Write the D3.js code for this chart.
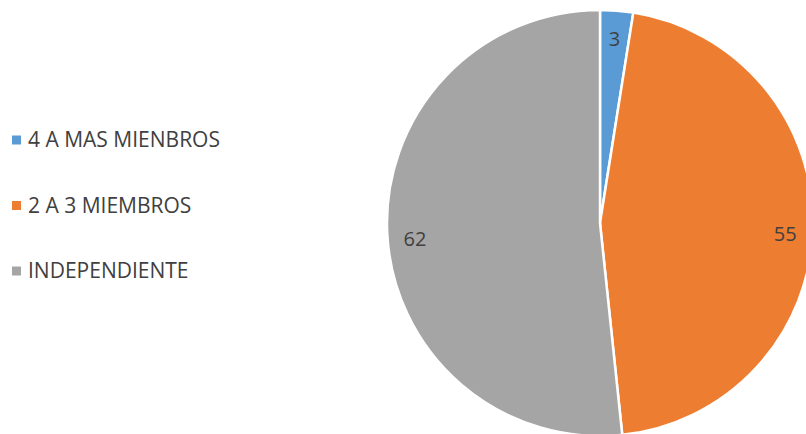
<!DOCTYPE html>
<html>
<head>
<meta charset="utf-8">
<script src="https://cdn.jsdelivr.net/npm/d3@7"></script>
<style>
  html, body { margin: 0; padding: 0; background: #fff; }
  svg { display: block; }
  text { font-family: "Open Sans", "Liberation Sans", sans-serif; fill: #404040; }
</style>
</head>
<body>
<svg id="chart" width="806" height="434"></svg>
<script>
// Household size categories and counts
const categories = ["4 A MAS MIENBROS", "2 A 3 MIEMBROS", "INDEPENDIENTE"];
const values = [3, 55, 62];
const colors = ["#5B9BD5", "#ED7D31", "#A5A5A5"];

const width = 806, height = 434;
const cx = 600, cy = 223, radius = 213;

const svg = d3.select("#chart");

const data = categories.map((c, i) => ({ name: c, value: values[i], color: colors[i] }));

const pie = d3.pie().value(d => d.value).sort(null);
const arcs = pie(data);

const arc = d3.arc().innerRadius(0).outerRadius(radius);
const labelArc = d3.arc().innerRadius(radius * 0.87).outerRadius(radius * 0.87);

const g = svg.append("g").attr("transform", `translate(${cx},${cy})`);

g.selectAll("path.slice")
  .data(arcs)
  .join("path")
  .attr("class", "slice")
  .attr("d", arc)
  .attr("fill", d => d.data.color)
  .attr("stroke", "#fff")
  .attr("stroke-width", 2.5)
  .attr("stroke-linejoin", "round");

// Value labels just inside the outer edge; side labels sit slightly lower
g.selectAll("text.value")
  .data(arcs)
  .join("text")
  .attr("class", "value")
  .attr("transform", d => {
    const [x, y] = labelArc.centroid(d);
    const mid = (d.startAngle + d.endAngle) / 2;
    return `translate(${x},${y + 6 * Math.abs(Math.sin(mid))})`;
  })
  .attr("text-anchor", "middle")
  .attr("dy", "0.35em")
  .style("font-size", "20px")
  .text(d => d.data.value);

// Legend
const legend = svg.append("g").attr("transform", "translate(12,140)");
const rowGap = 65.5;
const rows = legend.selectAll("g.row")
  .data(data)
  .join("g")
  .attr("class", "row")
  .attr("transform", (d, i) => `translate(0,${i * rowGap})`);

rows.append("rect")
  .attr("x", 0).attr("y", -4.5)
  .attr("width", 9).attr("height", 9)
  .attr("fill", d => d.color);

rows.append("text")
  .attr("x", 16)
  .attr("dy", "0.35em")
  .style("font-size", "21px")
  .text(d => d.name);
</script>
</body>
</html>
